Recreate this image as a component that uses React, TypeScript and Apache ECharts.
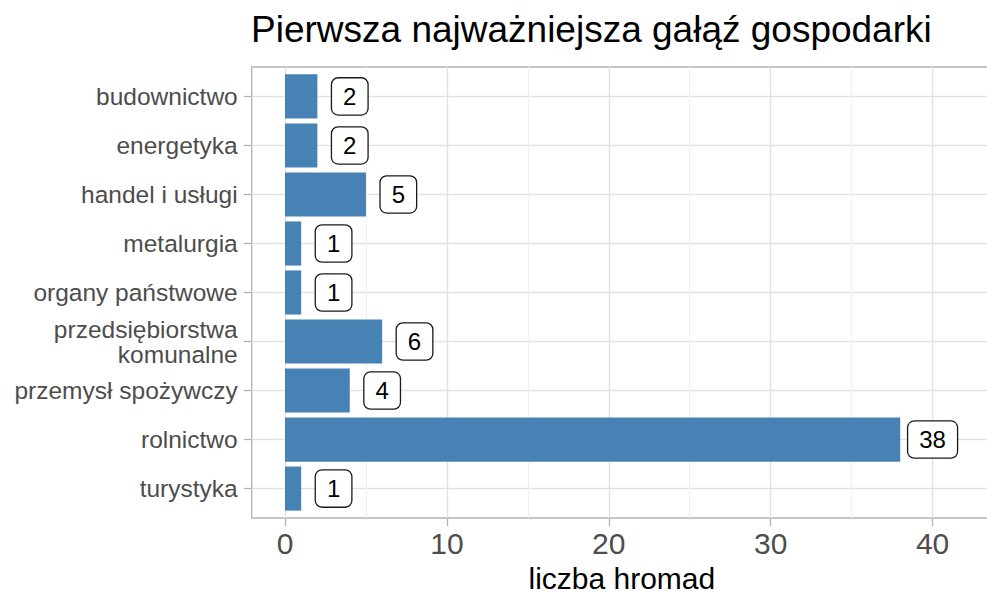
import React, { useEffect, useRef } from "react";
import * as echarts from "echarts";

const categories = [
  "budownictwo",
  "energetyka",
  "handel i usługi",
  "metalurgia",
  "organy państwowe",
  "przedsiębiorstwa\nkomunalne",
  "przemysł spożywczy",
  "rolnictwo",
  "turystyka",
];
const values = [2, 2, 5, 1, 1, 6, 4, 38, 1];
const xTicks = [0, 10, 20, 30, 40];
const xMinorTicks = [5, 15, 25, 35];
const yTicks = categories.map((_, i) => i);

const FONT = "'Liberation Sans', Arial, Helvetica, sans-serif";

export default function App() {
  const ref = useRef<HTMLDivElement>(null);

  useEffect(() => {
    if (!ref.current) return;
    const chart = echarts.init(ref.current, undefined, { renderer: "svg" });
    const barData = values.map((v, i) => [v, i]);

    chart.setOption({
      animation: false,
      backgroundColor: "#ffffff",
      title: {
        text: "Pierwsza najważniejsza gałąź gospodarki",
        left: 251,
        top: 11,
        padding: 0,
        textStyle: {
          fontFamily: FONT,
          fontSize: 37,
          fontWeight: "normal",
          color: "#000000",
        },
      },
      grid: {
        left: 251.7,
        top: 67,
        right: -5,
        bottom: 75,
        show: true,
        borderColor: "#b3b3b3",
        borderWidth: 1.3,
        backgroundColor: "transparent",
        containLabel: false,
        outerBoundsMode: "none",
      },
      xAxis: [
        {
          type: "value",
          position: "bottom",
          min: -2.057,
          max: 43.67,
          axisLine: { show: false, onZero: false },
          axisTick: {
            show: true,
            length: 8,
            customValues: xTicks,
            lineStyle: { color: "#b3b3b3", width: 1.3 },
          },
          axisLabel: {
            customValues: xTicks,
            fontFamily: FONT,
            fontSize: 30,
            color: "#4d4d4d",
            margin: 10,
          },
          splitLine: { show: true, lineStyle: { color: "#e2e2e2", width: 1.4 } },
          name: "liczba hromad",
          nameLocation: "middle",
          nameGap: 45,
          nameTextStyle: { fontFamily: FONT, fontSize: 30, color: "#000000" },
        },
        {
          type: "value",
          position: "top",
          min: -2.057,
          max: 43.67,
          axisLine: { show: false, onZero: false },
          axisTick: { show: false, customValues: xMinorTicks },
          axisLabel: { show: false, customValues: xMinorTicks },
          splitLine: { show: true, lineStyle: { color: "#f0f0f0", width: 1 } },
        },
      ],
      yAxis: {
        type: "value",
        position: "left",
        min: -0.6,
        max: 8.6,
        inverse: true,
        axisLine: { show: false, onZero: false },
        axisTick: {
          show: true,
          length: 8,
          customValues: yTicks,
          lineStyle: { color: "#b3b3b3", width: 1.3 },
        },
        axisLabel: {
          customValues: yTicks,
          formatter: (v: number) => categories[Math.round(v)] ?? "",
          fontFamily: FONT,
          fontSize: 24.5,
          lineHeight: 25,
          color: "#4d4d4d",
          margin: 14,
          align: "right",
        },
        splitLine: { show: true, lineStyle: { color: "#e2e2e2", width: 1.4 } },
      },
      series: [
        {
          type: "custom",
          xAxisIndex: 0,
          yAxisIndex: 0,
          data: barData,
          renderItem: (params: any, api: any) => {
            const v = api.value(0);
            const idx = api.value(1);
            const start = api.coord([0, idx]);
            const end = api.coord([v, idx]);
            const h = Math.abs(api.size([0, 0.9])[1]);
            return {
              type: "rect",
              shape: {
                x: start[0],
                y: start[1] - h / 2,
                width: end[0] - start[0],
                height: h,
              },
              style: { fill: "#4682B4" },
            };
          },
        },
        {
          type: "custom",
          xAxisIndex: 0,
          yAxisIndex: 0,
          data: barData,
          z: 5,
          renderItem: (params: any, api: any) => {
            const v = api.value(0);
            const idx = api.value(1);
            const p = api.coord([v + 2, idx]);
            return {
              type: "text",
              x: p[0],
              y: p[1],
              style: {
                text: String(v),
                align: "center",
                verticalAlign: "middle",
                textAlign: "center",
                textVerticalAlign: "middle",
                fontFamily: FONT,
                fontSize: 24,
                fill: "#000000",
                backgroundColor: "#ffffff",
                borderColor: "#1a1a1a",
                borderWidth: 1.3,
                borderRadius: 6,
                padding: [6, 11],
              },
            };
          },
        },
      ],
    });

    return () => chart.dispose();
  }, []);

  return (
    <div
      ref={ref}
      style={{
        position: "fixed",
        left: 0,
        top: 0,
        width: 987,
        height: 593,
        background: "#ffffff",
      }}
    />
  );
}
